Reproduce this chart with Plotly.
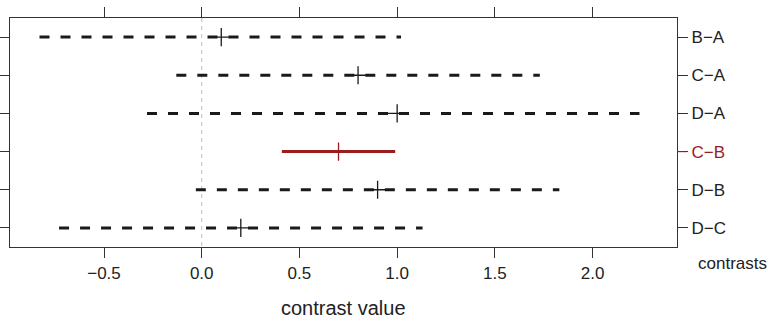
import plotly.graph_objects as go

contrasts = ["B\u2212A", "C\u2212A", "D\u2212A", "C\u2212B", "D\u2212B", "D\u2212C"]
estimate = [0.10, 0.80, 1.00, 0.70, 0.90, 0.20]
lower = [-0.83, -0.13, -0.28, 0.41, -0.03, -0.73]
upper = [1.02, 1.73, 2.24, 0.99, 1.83, 1.13]
highlight = "C\u2212B"
x_ticks = [-0.5, 0.0, 0.5, 1.0, 1.5, 2.0]
x_ticklabels = ["\u22120.5", "0.0", "0.5", "1.0", "1.5", "2.0"]

RED = "#9b1c1c"
n = len(contrasts)
ypos = list(range(1, n + 1))  # row 1 at top (reversed axis)

fig = go.Figure()

# zero reference line
fig.add_trace(go.Scatter(x=[0, 0], y=[0.5, n + 0.5], mode="lines",
                         line=dict(color="#bdbdbd", width=1, dash="4px,4px"),
                         hoverinfo="skip", showlegend=False))

for c, y, lo, hi, est in zip(contrasts, ypos, lower, upper, estimate):
    col = RED if c == highlight else "#1a1a1a"
    dash = "solid" if c == highlight else "10px,11px"
    fig.add_trace(go.Scatter(x=[lo, hi], y=[y, y], mode="lines",
                             line=dict(color=col, width=3, dash=dash),
                             showlegend=False, hoverinfo="skip"))
    fig.add_trace(go.Scatter(x=[est], y=[y], mode="markers",
                             marker=dict(symbol="cross-thin", size=13,
                                         line=dict(color=col, width=1.3)),
                             showlegend=False))

ticktext = [f'<span style="color:{RED}">{c}</span>' if c == highlight else c
            for c in contrasts]

fig.update_layout(
    template="none",
    width=770, height=322,
    margin=dict(l=10, r=93, t=18, b=75, pad=0),
    plot_bgcolor="white", paper_bgcolor="white",
    font=dict(family="Liberation Sans, Arial, sans-serif", size=17, color="#222222"),
    xaxis=dict(range=[-0.981, 2.432], tickvals=x_ticks, ticktext=x_ticklabels,
               ticks="outside", ticklen=10, tickwidth=1, tickcolor="#333333",
               showgrid=False, zeroline=False, showline=True, linecolor="#333333",
               linewidth=1.3, mirror="ticks", tickfont=dict(size=17), automargin=False),
    yaxis=dict(range=[n + 0.5, 0.5], tickvals=ypos, ticktext=ticktext, side="right",
               ticks="outside", ticklen=10, tickwidth=1, tickcolor="#333333",
               showgrid=False, zeroline=False, showline=True, linecolor="#333333",
               linewidth=1.3, mirror="ticks", tickfont=dict(size=17), automargin=False),
    annotations=[
        dict(text="contrast value", xref="paper", yref="paper", x=0.5, y=-0.268,
             xanchor="center", yanchor="middle", showarrow=False, font=dict(size=20)),
        dict(text="contrasts", xref="paper", yref="paper", x=1.029, y=-0.07,
             xanchor="left", yanchor="middle", showarrow=False, font=dict(size=17)),
    ],
    shapes=[
        dict(type="line", xref="paper", yref="y", x0=1.0, x1=1.0 + 10 / 666.7,
             y0=ypos[contrasts.index(highlight)], y1=ypos[contrasts.index(highlight)],
             line=dict(color=RED, width=1.2)),
    ],
)

fig.write_html("out.html", config={"displayModeBar": False},
               post_script="document.body.style.margin='0';")
